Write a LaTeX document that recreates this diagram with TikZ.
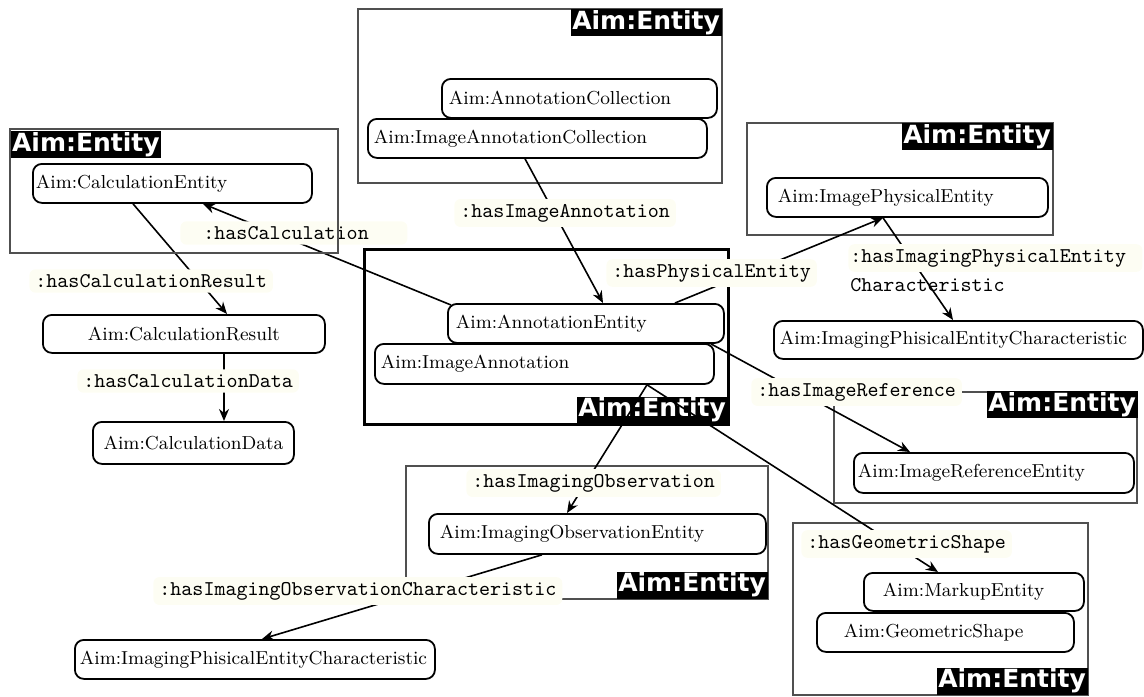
\documentclass[tikz,border=0pt]{standalone}
\usepackage{fontspec}
\newfontfamily\tagfont{DejaVu Sans}
\usetikzlibrary{arrows.meta,calc}
\definecolor{lblbg}{RGB}{253,253,243}
\definecolor{boxgray}{RGB}{80,80,80}
\tikzset{
 ent/.style={draw, line width=0.9pt, rounded corners=4.5pt, fill=white, anchor=north west, inner ysep=0pt, font=\fontsize{9.4}{11}\selectfont, align=left},
 lbl/.style={fill=lblbg, rounded corners=3pt, inner xsep=3pt, inner ysep=2.5pt, font=\ttfamily\fontsize{10.5}{12}\selectfont, anchor=west},
 lbltxt/.style={inner xsep=3pt, inner ysep=2pt, font=\ttfamily\fontsize{10.5}{12}\selectfont, anchor=west},
 tagbox/.style={fill=black, text=white, font=\tagfont\bfseries\fontsize{12.5}{14}\selectfont, inner sep=0pt, minimum width=75.5pt, minimum height=13.5pt},
 cont/.style={draw=boxgray, line width=0.6pt},
 conn/.style={line width=0.8pt},
 arr/.style={conn, -{Stealth[length=6pt,width=5pt]}},
}
\begin{document}
\begin{tikzpicture}[x=0.5pt,y=-0.5pt]
\useasboundingbox (0,0) rectangle (1144,696);
% containers
\draw[cont] (358,9) rectangle (722,183);
\draw[line width=1.5pt] (364,249) rectangle (728,424);
\draw[cont] (747,123) rectangle (1053,235);
\draw[cont] (834,392) rectangle (1137,503);
\draw[cont] (406,466) rectangle (768,599);
\draw[cont] (793,523) rectangle (1088,695);
% tags
\node[tagbox, anchor=north west] (tagCalc) at (10,131) {Aim:Entity};
\node[tagbox, anchor=north east] (tagColl) at (722,9) {Aim:Entity};
\node[tagbox, anchor=south east] (tagAnn) at (728,424) {Aim:Entity};
\node[tagbox, anchor=north east] (tagPhys) at (1053,123) {Aim:Entity};
\node[tagbox, anchor=north east] (tagRef) at (1138,391) {Aim:Entity};
\node[tagbox, anchor=south east] (tagObs) at (768,599) {Aim:Entity};
\node[tagbox, anchor=south east] (tagGeo) at (1088,695) {Aim:Entity};
% entity nodes
\node[ent, text width=136.5pt, inner xsep=1.5pt, minimum height=19.5pt] (calcEnt) at (32,163) {Aim:CalculationEntity};
\node[ent, text width=137pt, inner xsep=2pt, minimum height=19pt, align=center] (calcRes) at (42,314) {Aim:CalculationResult};
\node[ent, text width=96.5pt, inner xsep=2pt, minimum height=21pt, align=center] (calcData) at (92,421) {Aim:CalculationData};
\node[ent, text width=130.5pt, inner xsep=3.5pt, minimum height=19.5pt] (annColl) at (441,78) {Aim:AnnotationCollection};
\node[ent, text width=163.5pt, inner xsep=3pt, minimum height=19.5pt] (imgAnnColl) at (367,118) {Aim:ImageAnnotationCollection};
\node[ent, text width=163.5pt, inner xsep=3pt, minimum height=20pt] (imgAnn) at (374,343) {Aim:ImageAnnotation};
\node[ent, text width=130pt, inner xsep=4pt, minimum height=19.5pt] (annEnt) at (447,303) {Aim:AnnotationEntity};
\node[ent, text width=129.5pt, inner xsep=5.5pt, minimum height=19.5pt] (physEnt) at (766,177) {Aim:ImagePhysicalEntity};
\node[ent, text width=178.5pt, inner xsep=3pt, minimum height=19pt] (physChar) at (773,320) {Aim:ImagingPhisicalEntityCharacteristic};
\node[ent, text width=136pt, inner xsep=2pt, minimum height=20pt] (refEnt) at (853,452) {Aim:ImageReferenceEntity};
\node[ent, text width=157.5pt, inner xsep=5.5pt, minimum height=20pt] (obsEnt) at (428,513) {Aim:ImagingObservationEntity};
\node[ent, text width=175pt, inner xsep=2.5pt, minimum height=19.5pt] (obsChar) at (74,639) {Aim:ImagingPhisicalEntityCharacteristic};
\node[ent, text width=91pt, inner xsep=9.5pt, minimum height=19pt] (markup) at (863,572) {Aim:MarkupEntity};
\node[ent, text width=101.5pt, inner xsep=13.5pt, minimum height=19.5pt] (geo) at (816,612) {Aim:GeometricShape};
% second line of a label, under its connector
\node[lbltxt] (lblPhysChar2) at (844,285) {Characteristic};
% connectors
\draw[arr] ([xshift=50.5pt]calcEnt.south west) -- ([xshift=92.5pt]calcRes.north west);
\draw[arr] ([xshift=2pt,yshift=-1pt]annEnt.north west) -- ([xshift=85.5pt]calcEnt.south west);
\draw[arr] ([xshift=91pt]calcRes.south west) -- ([xshift=66pt]calcData.north west);
\draw[arr] ([xshift=79pt]imgAnnColl.south west) -- ([xshift=78pt]annEnt.north west);
\draw[arr] ([xshift=114pt]annEnt.north west) -- ([xshift=58.5pt]physEnt.south west);
\draw[arr] ([xshift=58.5pt]physEnt.south west) -- ([xshift=90pt]physChar.north west);
\draw[arr] ([xshift=-7pt]annEnt.south east) -- ([xshift=28.5pt]refEnt.north west);
\draw[arr] ([xshift=136.5pt]imgAnn.south west) -- ([xshift=69.5pt]obsEnt.north west);
\draw[arr] ([xshift=57pt]obsEnt.south west) -- ([xshift=94pt]obsChar.north west);
\draw[arr] ([xshift=136.5pt]imgAnn.south west) -- ([xshift=37.5pt]markup.north west);
% labels
\node[lbl] (lblCalcRes) at (29,281) {:hasCalculationResult};
\node[lbl] (lblCalcData) at (77,381) {:hasCalculationData};
\node[lbl, inner xsep=11.5pt, text width=90.5pt, align=left] (lblCalc) at (180,233) {:hasCalculation};
\node[lbl] (lblImgAnn) at (454,213) {:hasImageAnnotation};
\node[lbl] (lblPhys) at (606,273) {:hasPhysicalEntity};
\node[lbl, inner xsep=1pt, text width=145pt, align=left] (lblPhysChar) at (848,258) {:hasImagingPhysicalEntity};
\node[lbl] (lblRef) at (751,392) {:hasImageReference};
\node[lbl] (lblObs) at (466,483) {:hasImagingObservation};
\node[lbl] (lblObsChar) at (153,591) {:hasImagingObservationCharacteristic};
\node[lbl] (lblGeo) at (801,544) {:hasGeometricShape};
% calculation container, drawn over its label
\draw[cont] (10,129) rectangle (338,253);
\end{tikzpicture}
\end{document}
